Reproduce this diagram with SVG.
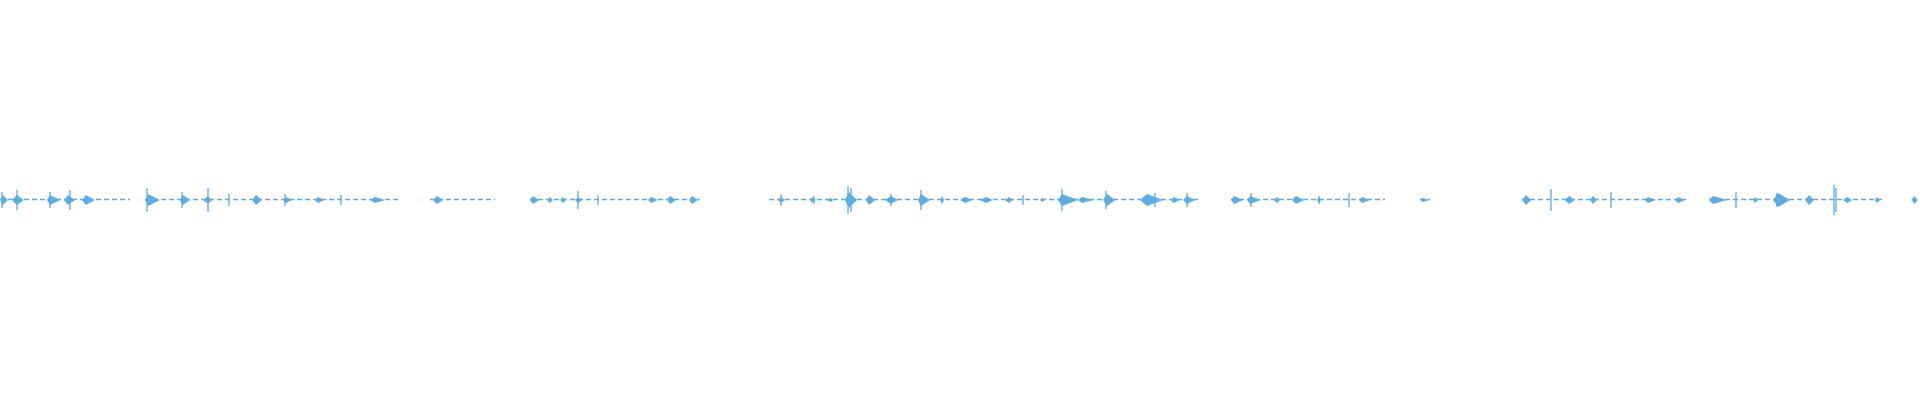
<svg xmlns="http://www.w3.org/2000/svg" width="1920" height="400" viewBox="0 0 1920 400">
<style>.b{fill:#5dade2}.s{stroke:#5dade2;stroke-width:1.3}.l{stroke:#5dade2;stroke-width:1.5;stroke-dasharray:5 3}</style>
<rect width="1920" height="400" fill="#fff"/>
<g id="baseline">
<line class="l" x1="0" y1="199.5" x2="130" y2="199.5"/>
<line class="l" x1="145" y1="199.5" x2="400" y2="199.5"/>
<line class="l" x1="430" y1="199.5" x2="495" y2="199.5"/>
<line class="l" x1="530" y1="199.5" x2="700" y2="199.5"/>
<line class="l" x1="769" y1="199.5" x2="1200" y2="199.5"/>
<line class="l" x1="1231" y1="199.5" x2="1385" y2="199.5"/>
<line class="l" x1="1420" y1="199.5" x2="1430" y2="199.5"/>
<line class="l" x1="1522" y1="199.5" x2="1686" y2="199.5"/>
<line class="l" x1="1709" y1="199.5" x2="1885" y2="199.5"/>
<line class="l" x1="1912" y1="199.5" x2="1920" y2="199.5"/>
</g>
<g id="bursts" class="b">
<path d="M0 200L3 195L8 200L3 205ZM12 200L17 195L24 200L17 205ZM47 200L50 195L60 200L50 205ZM64 200L68 195L75 200L68 205ZM82 200L86 195L95 200L86 205ZM145 200L148 194L160 200L148 206ZM180 200L183 195L190 200L183 205ZM203 200L208 196L212 200L208 204ZM252 200L256 195L262 200L256 205ZM283 200L286 197L292 200L286 203ZM315 200L318 197L324 200L318 203ZM370 200L375 197L385 200L375 203ZM433 200L437 196L443 200L437 204ZM530 200L533 196L539 200L533 204ZM547 200L550 197L553 200L550 203ZM560 200L563 197L566 200L563 203ZM575 200L578 197L582 200L578 203ZM648 200L651 197L658 200L651 203ZM667 200L670 196L676 200L670 204ZM689 200L692 196L698 200L692 204ZM778 200L781 197L785 200L781 203ZM810 200L812 197L816 200L812 203ZM827 200L831 198L833 200L831 202ZM845 200L849 192L857 200L849 208ZM866 200L869 195L875 200L869 205ZM885 200L891 196L898 200L891 204ZM918 200L921 194L930 200L921 206ZM940 200L942 196L944 200L942 204ZM960 200L965 197L972 200L965 203ZM980 200L986 197L993 200L986 203ZM1005 200L1009 197L1013 200L1009 203ZM1040 200L1042 198L1045 200L1042 202ZM1058 200L1062 194L1078 200L1062 206ZM1078 200L1082 197L1093 200L1082 203ZM1103 200L1107 194L1115 200L1107 206ZM1140 200L1147 194L1163 200L1147 206ZM1170 200L1174 197L1180 200L1174 203ZM1183 200L1187 196L1195 200L1187 204ZM1231 200L1234 196L1243 200L1234 204ZM1247 200L1250 196L1261 200L1250 204ZM1274 200L1277 197L1280 200L1277 203ZM1292 200L1296 196L1304 200L1296 204ZM1317 200L1319 197L1321 200L1319 203ZM1359 200L1362 197L1370 200L1362 203ZM1420 200L1423 198L1429 200L1423 202ZM1522 200L1526 195L1531 200L1526 205ZM1565 200L1569 196L1575 200L1569 204ZM1590 200L1593 196L1597 200L1593 204ZM1645 200L1648 197L1656 200L1648 203ZM1675 200L1678 197L1685 200L1678 203ZM1709 200L1713 196L1727 200L1713 204ZM1753 200L1755 197L1758 200L1755 203ZM1773 200L1778 193L1790 200L1778 207ZM1805 200L1809 195L1814 200L1809 205ZM1843 200L1847 197L1852 200L1847 203ZM1875 200L1877 197L1880 200L1877 203ZM1912 200L1914 196L1918 200L1914 204Z"/>
</g>
<g id="spikes" class="s">
<path d="M2 192V208M17 190V210M50 192V208M70 190V210M147 188V212M182 192V208M208 188V212M229 194V206M285 194V206M341 195V205M578 191V209M598 195V205M781 194V206M814 196V204M848 186V214M851 188V212M891 194V206M921 190V210M1023 195V205M1062 189V211M1106 191V209M1155 193V207M1187 193V207M1251 193V207M1319 196V204M1349 193V207M1551 189V211M1611 192V208M1736 192V208M1777 193V207M1834 185V215M1836 188V212"/>
</g>
</svg>
